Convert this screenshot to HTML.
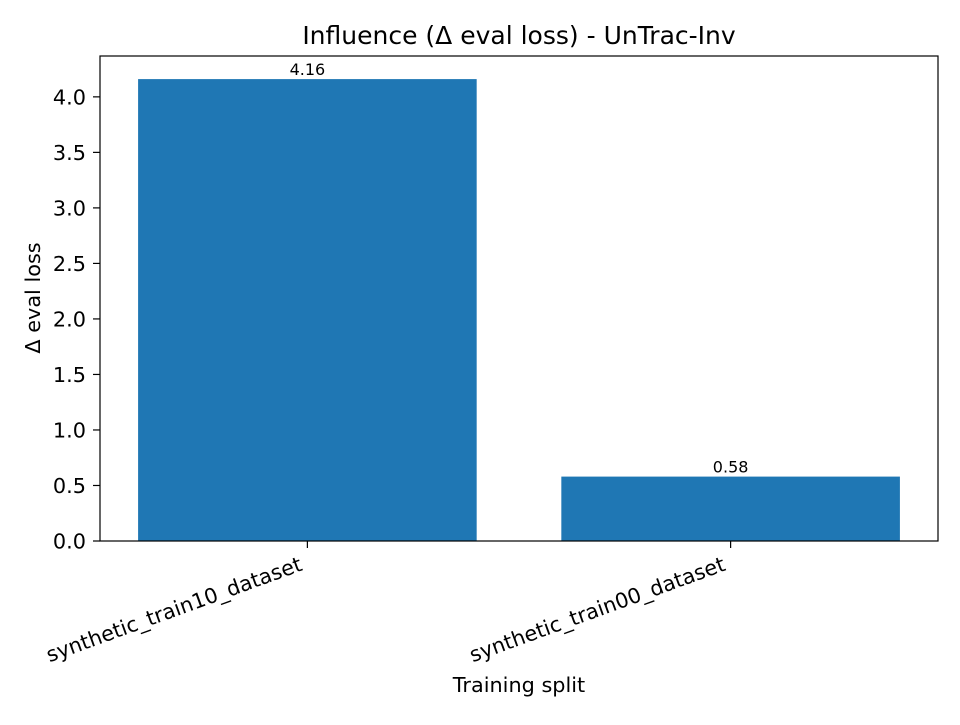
<!DOCTYPE html>
<html><head><meta charset="utf-8"><style>
body{margin:0;background:#fff;}
svg text{font-family:"DejaVu Sans","Liberation Sans",sans-serif;fill:#000;}
</style></head><body>
<svg id="chart" width="960" height="720" xmlns="http://www.w3.org/2000/svg">
<rect width="960" height="720" fill="#fff"/>
<text x="519" y="44" font-size="25" text-anchor="middle">Influence (Δ eval loss) - UnTrac-Inv</text>
<g id="bars"></g>
<g id="yticks"></g>
<g id="xticks"></g>
<rect x="100" y="56" width="838" height="485" fill="none" stroke="#000" stroke-width="1.2"/>
<text x="519" y="692" font-size="20.8" text-anchor="middle">Training split</text>
<text transform="translate(40,298) rotate(-90)" font-size="20.8" text-anchor="middle">Δ eval loss</text>
</svg>
<script>
const categories = ["synthetic_train10_dataset", "synthetic_train00_dataset"];
const values = [4.16, 0.58];
const valueLabels = ["4.16", "0.58"];
const yTicks = [0, 0.5, 1.0, 1.5, 2.0, 2.5, 3.0, 3.5, 4.0];
const yTickLabels = ["0.0","0.5","1.0","1.5","2.0","2.5","3.0","3.5","4.0"];

const NS = "http://www.w3.org/2000/svg";
const L=100,R=938,T=56,B=541;
const yMax = 4.368;
function y(v){return B-(v/yMax)*(B-T);}
const xMin=-0.49, xMax=categories.length-1+0.49;
function x(i){return L+(i-xMin)/(xMax-xMin)*(R-L);}
const bw = 0.8*(x(1)-x(0));
function mk(tag,attrs,parent,text){const e=document.createElementNS(NS,tag);for(const k in attrs)e.setAttribute(k,attrs[k]);if(text!==undefined)e.textContent=text;parent.appendChild(e);return e;}
const gb=document.getElementById('bars'),gy=document.getElementById('yticks'),gx=document.getElementById('xticks');
values.forEach((v,i)=>{
  const r=mk('rect',{x:x(i)-bw/2,y:y(v),width:bw,height:B-y(v),fill:'#1f77b4'},gb);
  
  
  const t=mk('text',{x:x(i),y:y(v)-4,'font-size':16,'text-anchor':'middle'},gb,valueLabels[i]);
  
  
  const tk=mk('line',{x1:x(i),x2:x(i),y1:B,y2:B+7,stroke:'#000','stroke-width':1.2},gx);
  
  
  const lb=mk('text',{transform:`translate(${x(i)-4},${B+29}) rotate(-20)`,'font-size':20.8,'text-anchor':'end'},gx,categories[i]);
  
  
});
yTicks.forEach((v,i)=>{
  const tk=mk('line',{x1:L-7,x2:L,y1:y(v),y2:y(v),stroke:'#000','stroke-width':1.2},gy);
  
  
  const lb=mk('text',{x:L-14,y:y(v)+7.5,'font-size':20.8,'text-anchor':'end'},gy,yTickLabels[i]);
  
  
});
</script>
</body></html>
